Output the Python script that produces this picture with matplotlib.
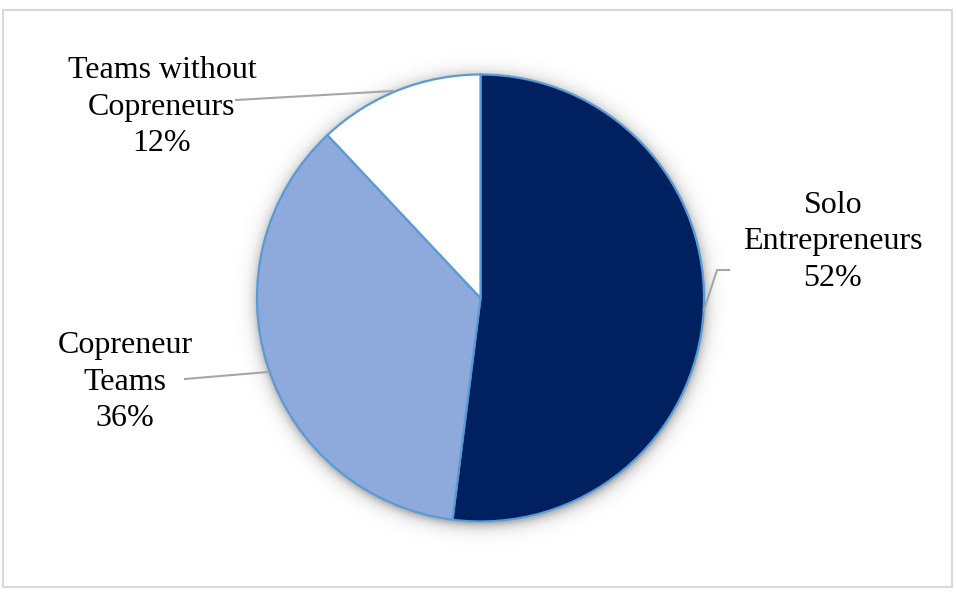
import numpy as np
import matplotlib.pyplot as plt
from matplotlib.patches import Rectangle

labels = ["Solo\nEntrepreneurs", "Copreneur\nTeams", "Teams without\nCopreneurs"]
shares = [52, 36, 12]
colors = ["#002060", "#8EA9DB", "#FFFFFF"]

W, H = 956, 593
plt.rcParams["font.family"] = ["Liberation Serif", "DejaVu Serif"]

fig = plt.figure(figsize=(W / 100, H / 100), dpi=100)
ax = fig.add_axes([0, 0, 1, 1])

cx, cy, r = 480.5, H - 298, 223.5

# soft drop shadow behind the pie
xx, yy = np.meshgrid(np.arange(W), np.arange(H))
d = np.hypot(xx - cx, yy - (cy - 3)) - r
alpha = np.clip(np.exp(-np.clip(d, 0, None) / 6.0) * 0.28, 0, 1)
alpha[d < 0] = 0.28
shade = np.zeros((H, W, 4))
shade[..., 3] = alpha
ax.imshow(shade, extent=(0, W, 0, H), origin="lower", zorder=1)

wedges, _ = ax.pie(shares, colors=colors, startangle=90, counterclock=False,
                   center=(cx, cy), radius=r, frame=True,
                   wedgeprops=dict(edgecolor="#5B9BD5", linewidth=1.6))
for w in wedges:
    w.set_zorder(2)
ax.set_xlim(0, W)
ax.set_ylim(0, H)
ax.set_aspect("equal")
ax.axis("off")

# data labels with leader lines
lab_pos = [(833, H - 242), (125, H - 382), (162, H - 107)]
for lab, s, (x, y) in zip(labels, shares, lab_pos):
    ax.text(x, y, f"{lab}\n{s}%", ha="center", va="center", fontsize=23,
            linespacing=1.32, zorder=4)

lc = "#A6A6A6"
ax.plot([704, 717, 729], [H - 310, H - 270, H - 270], color=lc, lw=1.5, zorder=3)
ax.plot([185, 268], [H - 379, H - 372], color=lc, lw=1.5, zorder=3)
ax.plot([236, 393], [H - 100, H - 91], color=lc, lw=1.5, zorder=3)

ax.add_patch(Rectangle((3.5, H - 587), 948.5, 577, fill=False,
                       edgecolor="#D9D9D9", lw=1.5, zorder=5))

fig.savefig("out.png", dpi=100)
